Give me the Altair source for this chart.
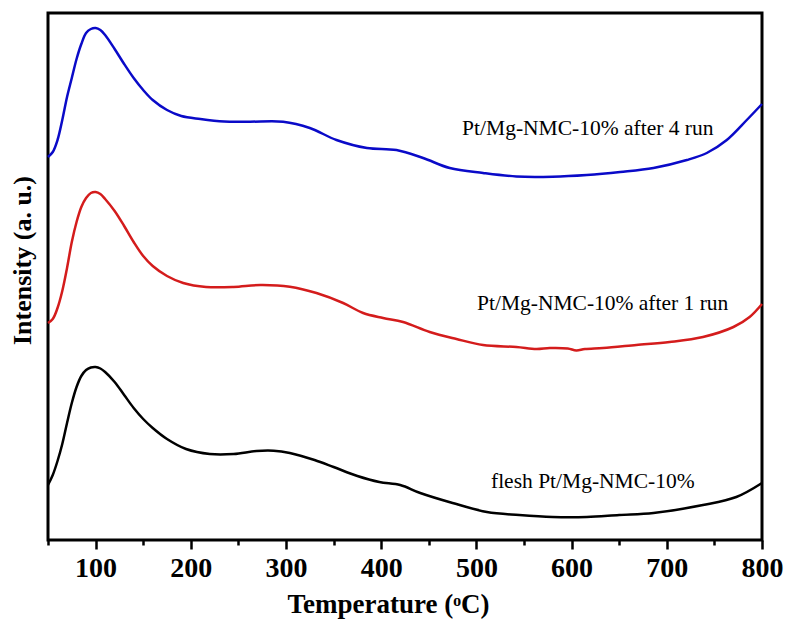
import altair as alt
import pandas as pd

# ---- data (temperature in °C, intensity in arbitrary units) ----
blue_T = [50, 55, 60, 65, 70, 75, 80, 85, 90, 95, 100, 105, 110, 120, 130, 140, 150, 160, 175,
          190, 210, 235, 262, 297, 325, 353, 385, 416, 444, 472, 507, 542, 580, 616, 651, 686,
          721, 742, 763, 784, 800]
blue_I = [383, 388, 400, 420, 443, 462, 481, 496, 507, 511, 512, 510, 505, 491, 476, 462, 450,
          440, 430, 424, 421, 418.5, 418.3, 418.3, 412, 400, 392, 390, 382, 372, 367, 363.5,
          363.3, 365, 368, 372, 380, 387, 400, 420, 436]

red_T = [50, 55, 60, 65, 70, 75, 80, 85, 90, 95, 100, 105, 110, 120, 130, 140, 150, 160, 175,
         192, 216, 245, 273, 304, 332, 360, 381, 402, 423, 451, 479, 507, 542, 563, 577, 596,
         605, 614, 633, 668, 703, 738, 770, 787, 800]
red_I = [217, 221, 232, 249, 272, 298, 318, 333, 342, 347, 348, 346, 341, 329, 314, 298, 284,
         274, 264, 257, 253, 253, 255, 253.3, 247, 237, 227, 222, 218, 208, 201, 195, 193, 191,
         192, 191.5, 189.5, 191, 192, 195, 198, 203, 213, 223, 236]

black_T = [50, 55, 60, 65, 70, 75, 80, 85, 90, 95, 100, 105, 110, 120, 130, 140, 150, 160, 175,
           195, 220, 245, 269, 287, 304, 330, 350, 375, 398, 420, 441, 475, 511, 545, 580, 616,
           650, 686, 738, 773, 800]
black_I = [55, 65, 79, 96, 117, 137, 153, 164, 170, 172.5, 173, 171.5, 168, 158, 145, 132, 121,
           112, 101, 91, 86, 86, 89, 89.3, 87, 80, 73, 64, 58, 55, 47, 37, 28, 25, 23, 23,
           25, 27, 35, 43, 57]

series = ["Pt/Mg-NMC-10% after 4 run", "Pt/Mg-NMC-10% after 1 run", "flesh Pt/Mg-NMC-10%"]
colors = ["#0a0ac8", "#d41c1c", "#000000"]

label_T = [485, 500.6, 515.3]
label_I = [405, 230, 52]

major_ticks = [100, 200, 300, 400, 500, 600, 700, 800]
minor_ticks = [50, 150, 250, 350, 450, 550, 650, 750]

rows = []
for name, ts, vs in zip(series, [blue_T, red_T, black_T], [blue_I, red_I, black_I]):
    for t, v in zip(ts, vs):
        rows.append({"series": name, "T": t, "I": v})
df = pd.DataFrame(rows)
labels_df = pd.DataFrame({"series": series, "T": label_T, "I": label_I})

xscale = alt.Scale(domain=[50, 800], nice=False, zero=False)
yscale = alt.Scale(domain=[0, 527], nice=False, zero=True)
cscale = alt.Scale(domain=series, range=colors)

FONT = "Liberation Serif"

lines = alt.Chart(df).mark_line(strokeWidth=2.5, interpolate="catmull-rom").encode(
    x=alt.X("T:Q", scale=xscale,
            axis=alt.Axis(values=major_ticks, orient="bottom", domain=False, grid=False,
                          tickSize=9, tickWidth=2.5, tickColor="black",
                          labelFont=FONT, labelFontSize=28, labelFontWeight="bold",
                          labelColor="black", labelPadding=5, labelFlush=False,
                          title="Temperature (\u1d52C)", titleFont=FONT, titleFontSize=27,
                          titleFontWeight="bold", titleColor="black",
                          titleX=340, titleY=72, titleBaseline="alphabetic")),
    y=alt.Y("I:Q", scale=yscale,
            axis=alt.Axis(labels=False, ticks=False, domain=False, grid=False,
                          title="Intensity (a. u.)", titleFont=FONT, titleFontSize=26,
                          titleFontWeight="bold", titleColor="black", titleAngle=270,
                          titleX=-26, titleY=247, titleAlign="center",
                          titleBaseline="middle")),
    color=alt.Color("series:N", scale=cscale, legend=None),
    detail="series:N",
)

texts = alt.Chart(labels_df).mark_text(
    align="left", baseline="alphabetic", font=FONT, fontSize=21.5, color="black"
).encode(
    x=alt.X("T:Q", scale=xscale,
            axis=alt.Axis(values=minor_ticks, orient="bottom", domain=False, grid=False,
                          labels=False, title=None, tickSize=5, tickWidth=2.5,
                          tickColor="black")),
    y=alt.Y("I:Q", scale=yscale),
    text="series:N",
)

chart = alt.layer(lines, texts).resolve_axis(x="independent").properties(
    width=714, height=527,
    background="white",
    autosize=alt.AutoSizeParams(type="none"),
    padding={"left": 48, "top": 13, "right": 23, "bottom": 79},
).configure_view(stroke="black", strokeWidth=3)

chart.save("out.html", embed_options={"renderer": "svg", "actions": False})
